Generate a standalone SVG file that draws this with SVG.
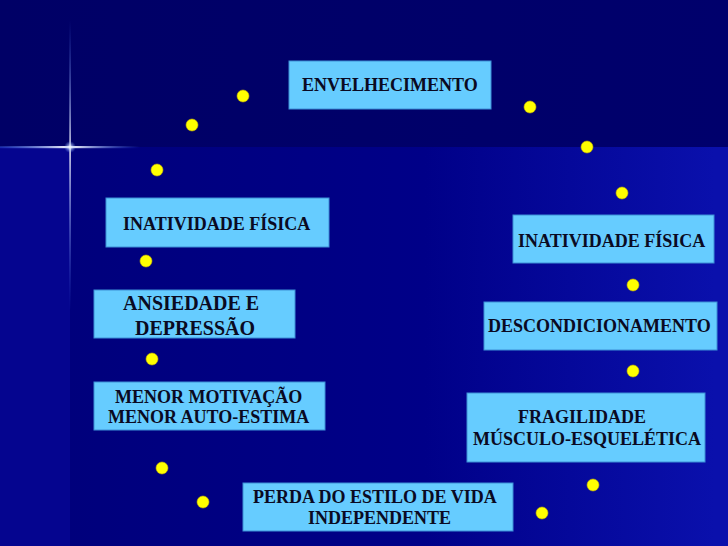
<svg xmlns="http://www.w3.org/2000/svg" width="728" height="546" viewBox="0 0 728 546">
  <defs>
    <linearGradient id="topBand" x1="0" y1="0" x2="1" y2="0">
      <stop offset="0" stop-color="#000066"/>
      <stop offset="1" stop-color="#00006c"/>
    </linearGradient>
    <linearGradient id="lowMid" x1="0" y1="0" x2="1" y2="0">
      <stop offset="0" stop-color="#00007c"/>
      <stop offset="0.55" stop-color="#000088"/>
      <stop offset="1" stop-color="#0a10ac"/>
    </linearGradient>
    <linearGradient id="hGlow" x1="0" y1="0" x2="1" y2="0">
      <stop offset="0" stop-color="#4a7cff" stop-opacity="0.3"/>
      <stop offset="0.5" stop-color="#ffffff" stop-opacity="1"/>
      <stop offset="1" stop-color="#4a7cff" stop-opacity="0"/>
    </linearGradient>
    <linearGradient id="vGlow" x1="0" y1="0" x2="0" y2="1">
      <stop offset="0" stop-color="#4a7cff" stop-opacity="0"/>
      <stop offset="0.45" stop-color="#ffffff" stop-opacity="0.85"/>
      <stop offset="1" stop-color="#4a7cff" stop-opacity="0"/>
    </linearGradient>
    <radialGradient id="starCore">
      <stop offset="0" stop-color="#ffffff" stop-opacity="1"/>
      <stop offset="1" stop-color="#6f9cff" stop-opacity="0"/>
    </radialGradient>
  </defs>
  <style>
    .box { fill: #66ccff; stroke: #3d8fd6; stroke-width: 1; }
    .lbl { font-family: "Liberation Serif", "Times New Roman", serif; font-weight: bold; font-size: 18px; fill: #0a0a22; }
    .big { font-size: 20px; }
    .dot { fill: #ffff00; stroke: #c8b400; stroke-width: 0.6; }
  </style>

  <!-- background -->
  <rect x="0" y="0" width="728" height="546" fill="#05058f"/>
  <rect x="0" y="0" width="728" height="147" fill="url(#topBand)"/>
  <rect x="70" y="147" width="645" height="399" fill="url(#lowMid)"/>
  <rect x="715" y="147" width="13" height="399" fill="#0a10ac"/>

  <!-- sparkle -->
  <g id="sparkle">
    <rect x="0" y="146" width="140" height="2.2" fill="url(#hGlow)"/>
    <rect x="69.3" y="20" width="1.6" height="290" fill="url(#vGlow)"/>
    <circle cx="70" cy="147" r="6" fill="url(#starCore)"/>
  </g>

  <!-- connectors: dotted arcs -->
  <g id="connectors">
    <circle class="dot" cx="243" cy="96" r="6"/>
    <circle class="dot" cx="192" cy="125" r="6"/>
    <circle class="dot" cx="157" cy="170" r="6"/>
    <circle class="dot" cx="146" cy="261" r="6"/>
    <circle class="dot" cx="152" cy="359" r="6"/>
    <circle class="dot" cx="162" cy="468" r="6"/>
    <circle class="dot" cx="203" cy="502" r="6"/>
    <circle class="dot" cx="530" cy="107" r="6"/>
    <circle class="dot" cx="587" cy="147" r="6"/>
    <circle class="dot" cx="622" cy="193" r="6"/>
    <circle class="dot" cx="633" cy="285" r="6"/>
    <circle class="dot" cx="633" cy="371" r="6"/>
    <circle class="dot" cx="593" cy="485" r="6"/>
    <circle class="dot" cx="542" cy="513" r="6"/>
  </g>

  <g id="envelhecimento">
    <rect class="box" x="289" y="61" width="202" height="48"/>
    <text class="lbl" x="302" y="91">ENVELHECIMENTO</text>
  </g>

  <g id="inatividade-esq">
    <rect class="box" x="106" y="198" width="223" height="49"/>
    <text class="lbl" x="123" y="230">INATIVIDADE FÍSICA</text>
  </g>

  <g id="ansiedade">
    <rect class="box" x="94" y="290" width="201" height="48"/>
    <text class="lbl big" x="123" y="310">ANSIEDADE E</text>
    <text class="lbl big" x="135" y="335">DEPRESSÃO</text>
  </g>

  <g id="motivacao">
    <rect class="box" x="94" y="382" width="231" height="48"/>
    <text class="lbl" x="115" y="403">MENOR MOTIVAÇÃO</text>
    <text class="lbl" x="108" y="423">MENOR AUTO-ESTIMA</text>
  </g>

  <g id="perda">
    <rect class="box" x="243" y="483" width="270" height="48"/>
    <text class="lbl" x="253" y="503">PERDA DO ESTILO DE VIDA</text>
    <text class="lbl" x="308" y="524">INDEPENDENTE</text>
  </g>

  <g id="inatividade-dir">
    <rect class="box" x="513" y="215" width="201" height="48"/>
    <text class="lbl" x="518" y="247">INATIVIDADE FÍSICA</text>
  </g>

  <g id="descondicionamento">
    <rect class="box" x="484" y="302" width="233" height="48"/>
    <text class="lbl" x="488" y="332">DESCONDICIONAMENTO</text>
  </g>

  <g id="fragilidade">
    <rect class="box" x="467" y="393" width="238" height="69"/>
    <text class="lbl" x="518" y="423">FRAGILIDADE</text>
    <text class="lbl" x="473" y="445">MÚSCULO-ESQUELÉTICA</text>
  </g>
</svg>
